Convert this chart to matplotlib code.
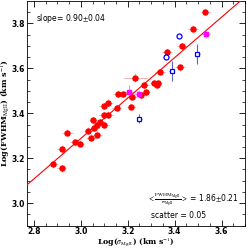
import matplotlib
matplotlib.use("Agg")
import matplotlib.pyplot as plt
import numpy as np

plt.rcParams['mathtext.fontset'] = 'stix'

# red: main sample
red_x = [2.883, 2.918, 2.918, 2.943, 2.974, 2.995, 3.032, 3.044, 3.058, 3.070,
         3.053, 3.071, 3.083, 3.099, 3.099, 3.117, 3.097, 3.117, 3.153, 3.157,
         3.180, 3.218, 3.215, 3.232, 3.257, 3.277, 3.271, 3.313, 3.323, 3.327,
         3.337, 3.368, 3.423, 3.432, 3.479, 3.531]
red_y = [3.173, 3.155, 3.239, 3.314, 3.270, 3.265, 3.323, 3.292, 3.336, 3.305,
         3.369, 3.346, 3.361, 3.350, 3.391, 3.394, 3.432, 3.447, 3.423, 3.487,
         3.484, 3.472, 3.428, 3.558, 3.482, 3.494, 3.525, 3.534, 3.528, 3.535,
         3.584, 3.671, 3.605, 3.700, 3.777, 3.851]
red_xerr = [0.02, 0.02, 0.02, 0.025, 0.02, 0.02, 0.02, 0.02, 0.02, 0.02,
            0.02, 0.02, 0.02, 0.02, 0.02, 0.02, 0.02, 0.02, 0.02, 0.02,
            0.02, 0.02, 0.02, 0.05, 0.02, 0.02, 0.02, 0.02, 0.02, 0.02,
            0.02, 0.02, 0.02, 0.02, 0.02, 0.02]
red_yerr = [0.015, 0.015, 0.02, 0.015, 0.015, 0.015, 0.015, 0.015, 0.015, 0.015,
            0.015, 0.015, 0.015, 0.015, 0.015, 0.015, 0.015, 0.015, 0.015, 0.015,
            0.015, 0.015, 0.015, 0.02, 0.015, 0.015, 0.015, 0.015, 0.015, 0.015,
            0.015, 0.015, 0.015, 0.015, 0.015, 0.015]

mag_x = [3.207, 3.246, 3.532]
mag_y = [3.494, 3.487, 3.752]
mag_xerr = [0.02, 0.02, 0.02]
mag_yerr = [0.03, 0.015, 0.015]

sq_x = [3.249, 3.388, 3.497]
sq_y = [3.376, 3.588, 3.664]
sq_yerr = [0.02, 0.045, 0.045]

circ_x = [3.363, 3.418]
circ_y = [3.649, 3.745]

slope = 0.90
intercept = 0.588

fig = plt.figure(figsize=(2.49, 2.49), dpi=100)
ax = fig.add_axes([0.108, 0.094, 0.876, 0.902])

ax.errorbar(red_x, red_y, xerr=red_xerr, yerr=red_yerr, fmt='none',
            ecolor='#f4a0a0', elinewidth=0.6, zorder=2)
ax.errorbar(mag_x, mag_y, xerr=mag_xerr, yerr=mag_yerr, fmt='none',
            ecolor='#e080e0', elinewidth=0.6, zorder=2)
ax.errorbar(sq_x, sq_y, xerr=0.01, yerr=sq_yerr, fmt='none',
            ecolor='#6060c0', elinewidth=0.8, zorder=2)

xl = np.array([2.77, 3.70])
ax.plot(xl, slope * xl + intercept, color='red', lw=0.8, zorder=3)

ax.plot(red_x, red_y, 'o', color='red', ms=3.6, mec='red', zorder=4)
ax.plot(mag_x, mag_y, 's', color='magenta', ms=3.0, mec='magenta', zorder=4)
ax.plot(sq_x, sq_y, 's', mfc='white', mec='blue', mew=0.9, ms=3.4, zorder=5)
ax.plot(circ_x, circ_y, 'o', mfc='white', mec='blue', mew=0.9, ms=3.6, zorder=5)

ax.set_xlim(2.77, 3.69)
ax.set_ylim(2.9, 3.9)
ax.set_xticks([2.8, 3.0, 3.2, 3.4, 3.6])
ax.set_yticks([3.0, 3.2, 3.4, 3.6, 3.8])
ax.set_xticks(np.arange(2.80, 3.70, 0.05), minor=True)
ax.set_yticks(np.arange(2.90, 3.90, 0.05), minor=True)
ax.tick_params(which='both', direction='in', top=True, right=True, labelsize=5.5, pad=1.2)
ax.tick_params(which='major', length=4, width=0.6)
ax.tick_params(which='minor', length=2, width=0.5)
for lab in ax.get_xticklabels() + ax.get_yticklabels():
    lab.set_fontweight('bold')
for s in ax.spines.values():
    s.set_linewidth(0.6)

ax.set_xlabel(r'Log($\sigma_{\rm MgII}$) (km s$^{-1}$)', fontsize=5.6,
              family='serif', fontweight='bold')
ax.set_ylabel(r'Log(FWHM$_{\rm MgII}$) (km s$^{-1}$)', fontsize=5.8,
              family='serif', fontweight='bold')
ax.xaxis.set_label_coords(0.5, -0.045)
ax.yaxis.set_label_coords(-0.066, 0.5)

ax.text(0.04, 0.95, r'slope= 0.90$\pm$0.04', transform=ax.transAxes,
        fontsize=5.5, va='top', ha='left')
ax.text(0.55, 0.115, r'$<\frac{\rm FWHM_{MgII}}{\sigma_{MgII}}>$ = 1.86$\pm$0.21',
        transform=ax.transAxes, fontsize=5.5, va='center', ha='left')
ax.text(0.57, 0.045, 'scatter = 0.05', transform=ax.transAxes,
        fontsize=5.5, va='center', ha='left')

plt.savefig('out.png', dpi=100)
